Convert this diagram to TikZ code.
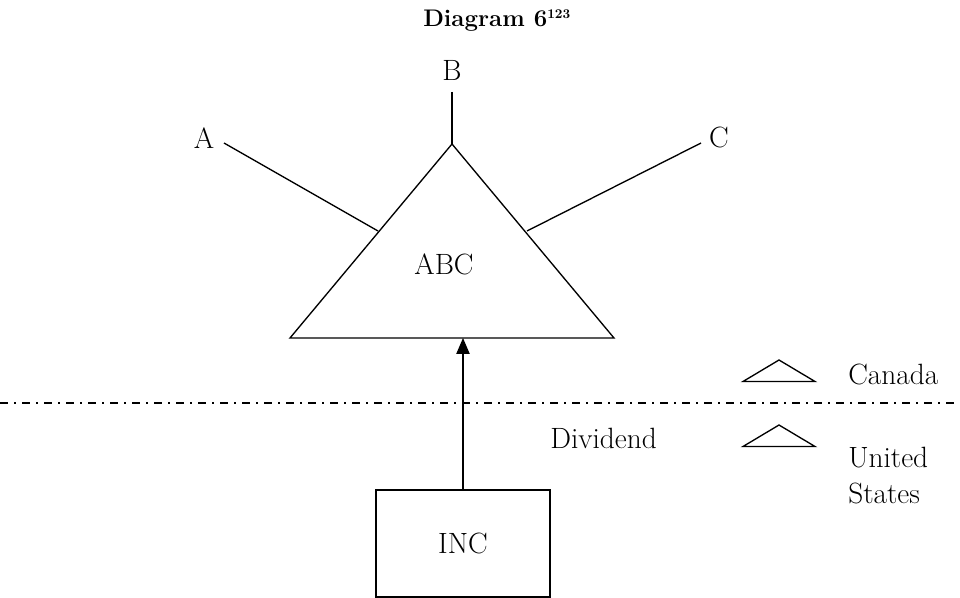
\documentclass[tikz,border=0pt]{standalone}
\usepackage{fontspec}
\setmainfont{Latin Modern Roman}
\usetikzlibrary{arrows.meta}
\begin{document}
\begin{tikzpicture}[x=0.75pt,y=-0.75pt,
  lbl/.style={inner sep=0pt,font=\fontsize{22}{27}\selectfont},
  ln/.style={line width=1pt,line cap=butt},
  flag/.style={line width=1pt,line join=miter}]
\useasboundingbox (0,0) rectangle (960,598);
% title
\node[anchor=base west,inner sep=0pt,font=\fontsize{18}{22}\selectfont\bfseries] (title) at (423,27) {Diagram 6\textsuperscript{\fontsize{10}{12}\selectfont 123}};
% big triangle
\coordinate (apex) at (452,144);
\coordinate (bl) at (290,338);
\coordinate (br) at (614,338);
\draw[flag] (apex) -- (bl) -- (br) -- cycle;
\node[lbl] (abc) at (444,264) {ABC};
\coordinate (base) at (463,338);
% shareholder labels
\node[lbl] (a) at (204,138) {A};
\node[lbl] (b) at (452,70) {B};
\node[lbl] (c) at (719,137) {C};
\coordinate (aend) at (224,143);
\coordinate (aedge) at (378,231);
\coordinate (bend) at (452,92);
\coordinate (cend) at (701,143);
\coordinate (cedge) at (527,231);
\draw[ln] (aend) -- (aedge);
\draw[ln] (bend) -- (apex);
\draw[ln] (cend) -- (cedge);
% border
\coordinate (bdl) at (0,403);
\coordinate (bdr) at (960,403);
\draw[line width=1pt,dash pattern=on 6pt off 4.5pt on 1.5pt off 4.5pt] (bdl) -- (bdr);
% INC box and dividend
\node[draw,line width=1pt,minimum width=130.5pt,minimum height=80.25pt,inner sep=0pt,font=\fontsize{22}{27}\selectfont] (inc) at (463,543.5) {INC};
\draw[line width=1pt,-{Triangle[length=12pt,width=10pt]}] (inc.north) -- (base);
\node[lbl,anchor=west] (div) at (550,438) {Dividend};
% legend
\draw[flag] (743,381.5) -- (779,360) -- (815,381.5) -- cycle;
\draw[flag] (743,446.5) -- (779,425) -- (815,446.5) -- cycle;
\node[lbl,anchor=west] (canada) at (848,374) {Canada};
\node[lbl,anchor=base west] (us1) at (848,467) {United};
\node[lbl,anchor=base west] (us2) at (848,503) {States};
\end{tikzpicture}
\end{document}
